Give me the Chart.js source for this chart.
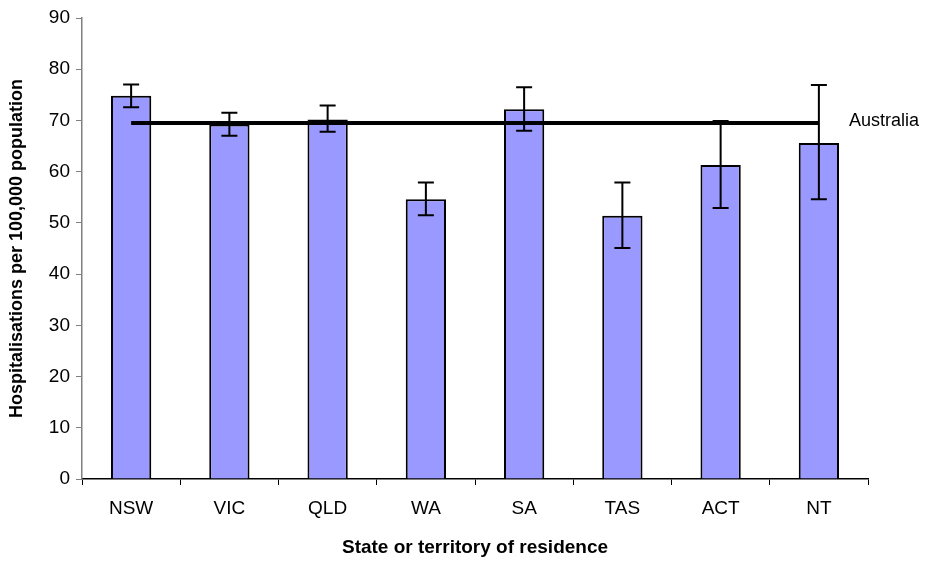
<!DOCTYPE html>
<html>
<head>
<meta charset="utf-8">
<script src="https://cdn.jsdelivr.net/npm/chart.js@4"></script>
<style>
  html,body{margin:0;padding:0;background:#fff;}
  #wrap{width:935px;height:563px;position:relative;}
</style>
</head>
<body>
<div id="wrap"><canvas id="chart"></canvas></div>
<script>
// rates per 100,000 population
const states = ['NSW','VIC','QLD','WA','SA','TAS','ACT','NT'];
const rates  = [74.8, 69.2, 70.2, 54.6, 72.2, 51.4, 61.3, 65.6];
const errLow  = [72.6, 67.0, 67.8, 51.5, 68.0, 45.1, 52.9, 54.6];
const errHigh = [77.0, 71.5, 72.9, 57.9, 76.5, 57.9, 69.9, 76.9];
const australia = 69.5;
const yTicks = [0,10,20,30,40,50,60,70,80,90];

const FONT = '"Liberation Sans", Arial, sans-serif';

// draw error bars + line label using the library scales
const extras = {
  id: 'extras',
  afterDatasetsDraw(chart){
    const ctx = chart.ctx, x = chart.scales.x, y = chart.scales.y;
    ctx.save();
    ctx.strokeStyle = '#000';
    ctx.lineWidth = 2;
    states.forEach((s, i) => {
      const px = x.getPixelForValue(i);
      const top = y.getPixelForValue(errHigh[i]);
      const bot = y.getPixelForValue(errLow[i]);
      ctx.beginPath();
      ctx.moveTo(px, top); ctx.lineTo(px, bot);
      ctx.moveTo(px - 8, top); ctx.lineTo(px + 8, top);
      ctx.moveTo(px - 8, bot); ctx.lineTo(px + 8, bot);
      ctx.stroke();
    });
    // Australia label at end of line
    const meta = chart.getDatasetMeta(1);
    const last = meta.data[meta.data.length - 1];
    ctx.fillStyle = '#000';
    ctx.font = '18px ' + FONT;
    ctx.textBaseline = 'middle';
    ctx.fillText('Australia', last.x + 30, last.y - 2);
    ctx.restore();
  }
};

new Chart(document.getElementById('chart'), {
  data: {
    labels: states,
    datasets: [
      { type:'bar', data: rates, backgroundColor:'#9999FF', borderColor:'#000', borderWidth:2,
        barPercentage:0.41, categoryPercentage:1.0, order:2 },
      { type:'line', data: states.map(() => australia), borderColor:'#000', borderWidth:4,
        pointRadius:0, fill:false, order:1 }
    ]
  },
  options: {
    responsive:true, maintainAspectRatio:false, animation:false,
    layout:{ padding:{ top:18, right:67, left:0, bottom:0 } },
    plugins:{ legend:{display:false}, tooltip:{enabled:false} },
    scales:{
      x:{
        offset:true,
        grid:{ display:true, drawOnChartArea:false, drawTicks:true, tickLength:6, offset:true, color:'#000' },
        border:{ color:'#000', width:1.5 },
        ticks:{ color:'#000', font:{ family:FONT, size:19 }, padding:12 },
        title:{ display:true, text:'State or territory of residence', color:'#000',
                font:{ family:FONT, size:19, weight:'bold' }, padding:{ top:8 } },
        afterFit(s){ s.height = 84; }
      },
      y:{
        min:0, max:90,
        afterBuildTicks(s){ s.ticks = yTicks.map(v => ({ value:v })); },
        grid:{ display:true, drawOnChartArea:false, drawTicks:true, tickLength:6, color:'#808080' },
        border:{ color:'#808080', width:1.5 },
        ticks:{ color:'#000', font:{ family:FONT, size:19 }, padding:6 },
        title:{ display:true, text:'Hospitalisations per 100,000 population', color:'#000',
                font:{ family:FONT, size:18, weight:'bold' }, padding:{ top:6, bottom:2 } },
        afterFit(s){ s.width = 82; }
      }
    }
  },
  plugins:[extras]
});
</script>
</body>
</html>
